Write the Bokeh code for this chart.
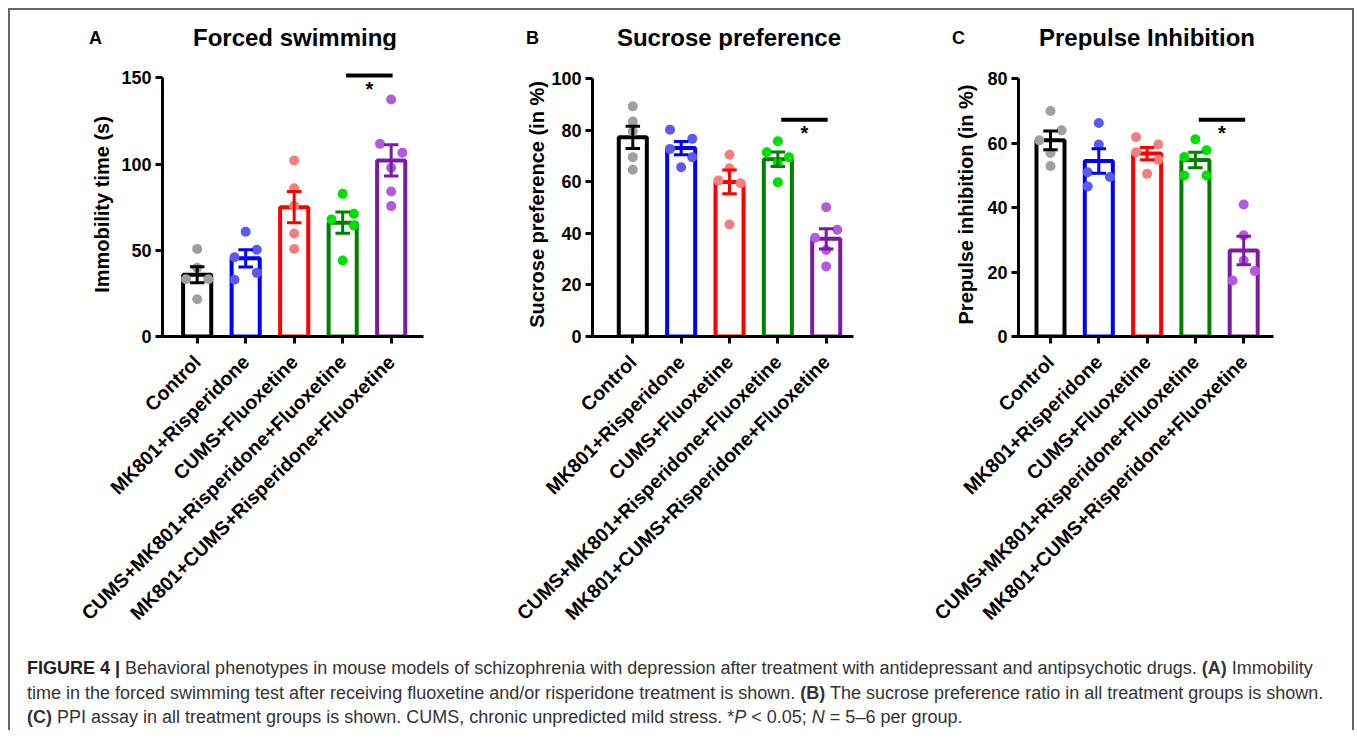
import math
from bokeh.plotting import figure
from bokeh.models import Range1d, FixedTicker, Div
from bokeh.layouts import row, column
from bokeh.embed import file_html
from bokeh.resources import INLINE
from bokeh.core.properties import value

# ---------------- data ----------------
categories = ["Control", "MK801+Risperidone", "CUMS+Fluoxetine",
              "CUMS+MK801+Risperidone+Fluoxetine", "MK801+CUMS+Risperidone+Fluoxetine"]
bar_colors = ["#000000", "#0000FF", "#FF0000", "#008000", "#7B1AA6"]
dot_colors = ["#A0A0A0", "#5A5AF2", "#F47E7E", "#00E000", "#B45ADC"]

panel_letters = ["A", "B", "C"]
panel_titles = ["Forced swimming", "Sucrose preference", "Prepulse Inhibition"]

# A: forced swimming, immobility time (s)
fst_mean = [35.8, 45.3, 75.0, 66.0, 102.1]
fst_sem = [4.7, 5.0, 9.1, 6.2, 9.1]
fst_control = [50.8, 39.8, 33.2, 33.2, 21.6]
fst_mk801_ris = [60.7, 50.3, 46.0, 36.9, 32.9]
fst_cums_flx = [102.0, 86.0, 75.8, 59.7, 50.8]
fst_cums_mk801_ris_flx = [82.7, 71.1, 67.9, 64.4, 44.1]
fst_mk801_cums_ris_flx = [137.4, 111.7, 106.5, 97.8, 84.1, 75.6]
fst_side = [[0, 0, -1, 1, 0], [0, 1, -1, 1, -1], [0, 0, 0, 0, 0],
            [0, 1, -1, 1, 0], [0, -1, 1, 0, 0, 0]]

# B: sucrose preference (%)
spt_mean = [77.3, 73.1, 60.0, 68.8, 37.9]
spt_sem = [4.3, 2.6, 4.6, 2.8, 3.9]
spt_control = [89.3, 83.4, 79.6, 69.6, 64.7]
spt_mk801_ris = [80.2, 76.7, 72.8, 69.6, 65.7]
spt_cums_flx = [70.5, 65.3, 60.5, 59.5, 43.5]
spt_cums_mk801_ris_flx = [75.8, 71.5, 69.6, 67.3, 59.9]
spt_mk801_cums_ris_flx = [50.2, 41.4, 38.3, 33.6, 27.2]
spt_side = [[0, 0, 0, 0, 0], [-1, 1, -1, 1, 0], [0, 0, -1, 1, 0],
            [0, -1, 1, 0, 0], [0, 1, -1, 0, 0]]

# C: prepulse inhibition (%)
ppi_mean = [60.9, 54.5, 56.8, 54.8, 26.7]
ppi_sem = [2.9, 3.8, 1.9, 2.4, 4.4]
ppi_control = [70.0, 64.0, 60.9, 57.0, 52.9]
ppi_mk801_ris = [66.3, 59.6, 51.0, 49.5, 46.6]
ppi_cums_flx = [61.9, 59.6, 57.2, 54.9, 50.5]
ppi_cums_mk801_ris_flx = [61.2, 57.8, 55.7, 50.0, 50.0]
ppi_mk801_cums_ris_flx = [41.0, 31.4, 23.6, 20.3, 17.4]
ppi_side = [[0, 1, -1, 0, 0], [0, 0, -1, 1, -1], [-1, 1, -1, 1, 0],
            [0, 1, -1, -1, 1], [0, 0, 0, 1, -1]]

FONT = "Liberation Sans"
TOTAL_W = 1342
HDR_H = 40
FIG_H = 590
TOP = 22
BOTTOM = 304


def make_panel(ylabel, yticks, means, sems, groups, sides, sig_y,
               width, b_left, b_right, x0, px_unit, y_px_unit, lab_standoff):
    frame_w = width - b_left - b_right
    frame_h = FIG_H - TOP - BOTTOM
    x1 = x0 + frame_w / px_unit
    y_end = frame_h / y_px_unit
    p = figure(width=width, height=FIG_H, output_backend="svg", toolbar_location=None,
               x_range=Range1d(x0, x1), y_range=Range1d(0, y_end),
               min_border_left=b_left, min_border_right=b_right,
               min_border_top=TOP, min_border_bottom=BOTTOM)
    p.outline_line_color = None
    p.grid.visible = False
    p.background_fill_color = "white"
    p.border_fill_color = "white"

    xs = list(range(1, len(categories) + 1))
    p.vbar(x=xs, top=means, bottom=0, width=0.58, fill_color="white",
           line_color=bar_colors, line_width=4)
    for i, (vals, side) in enumerate(zip(groups, sides)):
        px = [xs[i] + 0.23 * s for s in side]
        p.scatter(px, vals, size=10, fill_color=dot_colors[i], line_color=None)
    lo = [m - s for m, s in zip(means, sems)]
    hi = [m + s for m, s in zip(means, sems)]
    p.segment(x0=xs, y0=lo, x1=xs, y1=hi, line_color=bar_colors, line_width=3)
    cw = 0.15
    p.segment(x0=[x - cw for x in xs], y0=hi, x1=[x + cw for x in xs], y1=hi,
              line_color=bar_colors, line_width=3)
    p.segment(x0=[x - cw for x in xs], y0=lo, x1=[x + cw for x in xs], y1=lo,
              line_color=bar_colors, line_width=3)

    # significance bracket between groups 4 and 5
    p.segment(x0=[4.07], y0=[sig_y], x1=[5.03], y1=[sig_y], line_color="black", line_width=4)
    p.text(x=[4.55], y=[sig_y], text=["*"], text_font=value(FONT), text_font_style="bold",
           text_font_size="20px", text_align="center", text_baseline="top", y_offset=2,
           text_color="black")

    for ax in (p.xaxis[0], p.yaxis[0]):
        ax.axis_line_width = 3
        ax.axis_line_color = "black"
        ax.major_tick_line_width = 3
        ax.major_tick_out = 7
        ax.major_tick_in = 0
        ax.minor_tick_line_color = None
        ax.major_label_text_font = FONT
        ax.major_label_text_font_style = "bold"
        ax.major_label_text_color = "black"

    xa = p.xaxis[0]
    xa.ticker = FixedTicker(ticks=xs)
    xa.major_label_overrides = {x: c for x, c in zip(xs, categories)}
    xa.major_label_orientation = math.pi / 4
    xa.major_label_text_font_size = "19.5px"
    xa.major_label_standoff = 15

    ya = p.yaxis[0]
    ya.ticker = FixedTicker(ticks=yticks)
    ya.bounds = (0, yticks[-1])
    ya.major_label_text_font_size = "18px"
    ya.major_label_standoff = 4
    ya.axis_label = ylabel
    ya.axis_label_text_font = FONT
    ya.axis_label_text_font_style = "bold"
    ya.axis_label_text_font_size = "20px"
    ya.axis_label_text_color = "black"
    ya.axis_label_standoff = lab_standoff
    return p


pA = make_panel("Immobility time (s)", [0, 50, 100, 150], fst_mean, fst_sem,
                [fst_control, fst_mk801_ris, fst_cums_flx, fst_cums_mk801_ris_flx, fst_mk801_cums_ris_flx],
                fst_side, 151.3, 430, 152, 17, 0.285, 48.5, 1.7247, 5)
pB = make_panel("Sucrose preference (in %)", [0, 20, 40, 60, 80, 100], spt_mean, spt_sem,
                [spt_control, spt_mk801_ris, spt_cums_flx, spt_cums_mk801_ris_flx, spt_mk801_cums_ris_flx],
                spt_side, 84.1, 430, 152, 17, 0.1665, 48.35, 2.577, 0)
pC = make_panel("Prepulse inhibition (in %)", [0, 20, 40, 60, 80], ppi_mean, ppi_sem,
                [ppi_control, ppi_mk801_ris, ppi_cums_flx, ppi_cums_mk801_ris_flx, ppi_mk801_cums_ris_flx],
                ppi_side, 67.3, 482, 148, 79, 0.3375, 48.3, 3.221, 7)

# header strip with panel letters and titles (pixel-like coordinates)
hdr = figure(width=TOTAL_W, height=HDR_H, output_backend="svg", toolbar_location=None,
             x_range=Range1d(0, TOTAL_W), y_range=Range1d(0, HDR_H),
             x_axis_location=None, y_axis_location=None, min_border=0)
hdr.grid.visible = False
hdr.outline_line_color = None
hdr.text(x=[85, 522, 948], y=[13, 13, 13], text=panel_letters, text_font=value(FONT),
         text_font_style="bold", text_font_size="18px", text_align="center",
         text_baseline="middle", text_color="black")
hdr.text(x=[284.5, 718.5, 1136.5], y=[13, 13, 13], text=panel_titles, text_font=value(FONT),
         text_font_style="bold", text_font_size="24px", text_align="center",
         text_baseline="middle", text_color="black")

caption_html = (
    '<div style="font-family:\'Liberation Sans\',Arial,sans-serif;font-size:18px;line-height:24.5px;'
    'color:#333;white-space:nowrap;padding:16px 0 0 17px;">'
    '<b style="color:#222">FIGURE 4 |</b> Behavioral phenotypes in mouse models of schizophrenia with '
    'depression after treatment with antidepressant and antipsychotic drugs. <b>(A)</b> Immobility<br>'
    'time in the forced swimming test after receiving fluoxetine and/or risperidone treatment is shown. '
    '<b>(B)</b> The sucrose preference ratio in all treatment groups is shown.<br>'
    '<b>(C)</b> PPI assay in all treatment groups is shown. CUMS, chronic unpredicted mild stress. '
    '*<i>P</i> &lt; 0.05; <i>N</i> = 5\u20136 per group.</div>'
)
caption = Div(text=caption_html, width=TOTAL_W, height=90, margin=0)

layout = column(hdr, row(pA, pB, pC), caption, margin=(8, 0, 0, 8),
                styles={"border-left": "2px solid #666", "border-top": "2px solid #666",
                        "border-right": "2px solid #666"})

open("out.html", "w").write(file_html(layout, INLINE))
